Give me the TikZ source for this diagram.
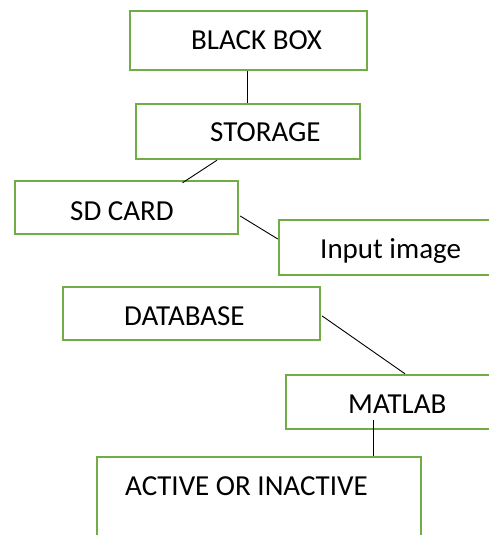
\documentclass[tikz,border=0pt]{standalone}
\usepackage{fontspec}
\setmainfont{Carlito}
\usetikzlibrary{calc}
\definecolor{boxgreen}{HTML}{70AD47}
\tikzset{
  gbox/.style={draw=boxgreen, line width=2.4pt, rectangle, inner sep=0pt, fill=none},
  lbl/.style={anchor=base west, inner sep=0pt, font=\fontsize{29}{34}\selectfont},
  conn/.style={draw=black, line width=0.9pt}
}
\begin{document}
\begin{tikzpicture}[x=1pt,y=-1pt]
\useasboundingbox (0,0) rectangle (489,535);
\node[gbox, minimum width=237pt, minimum height=59pt] (bb) at (248.5,40.5) {};
\node[gbox, minimum width=224pt, minimum height=55pt] (storage) at (248,131.5) {};
\node[gbox, minimum width=223pt, minimum height=53pt] (sd) at (126.5,207.5) {};
\node[gbox, minimum width=221pt, minimum height=55pt] (input) at (389.5,247.5) {};
\node[gbox, minimum width=257pt, minimum height=53pt] (db) at (191.5,313.5) {};
\node[gbox, minimum width=214pt, minimum height=54pt] (matlab) at (393,402) {};
\node[gbox, minimum width=324pt, minimum height=113pt] (active) at (259,513.5) {};

\node[lbl] (tbb) at (191,49) {BLACK BOX};
\node[lbl] (tst) at (210,141) {STORAGE};
\node[lbl] (tsd) at (70,220) {SD CARD};
\node[lbl] (tin) at (320,258) {Input image};
\node[lbl] (tdb) at (124,325) {DATABASE};
\node[lbl] (tml) at (348,413) {MATLAB};
\node[lbl] (tac) at (125,495) {ACTIVE OR INACTIVE};

\draw[conn] ($(bb.south)+(-1.5,0)$) -- ($(storage.north)+(-1,0)$);
\draw[conn] ($(storage.south)+(-31,0)$) -- ($(sd.north)+(56,3)$);
\draw[conn] ($(sd.east)+(1,8.5)$) -- ($(input.west)+(0,-8.5)$);
\draw[conn] ($(db.east)+(1,2.5)$) -- ($(matlab.north)+(12,0)$);
\draw[conn] ($(matlab.south)+(-20,-10)$) -- ($(active.north)+(114,0)$);
\end{tikzpicture}
\end{document}
